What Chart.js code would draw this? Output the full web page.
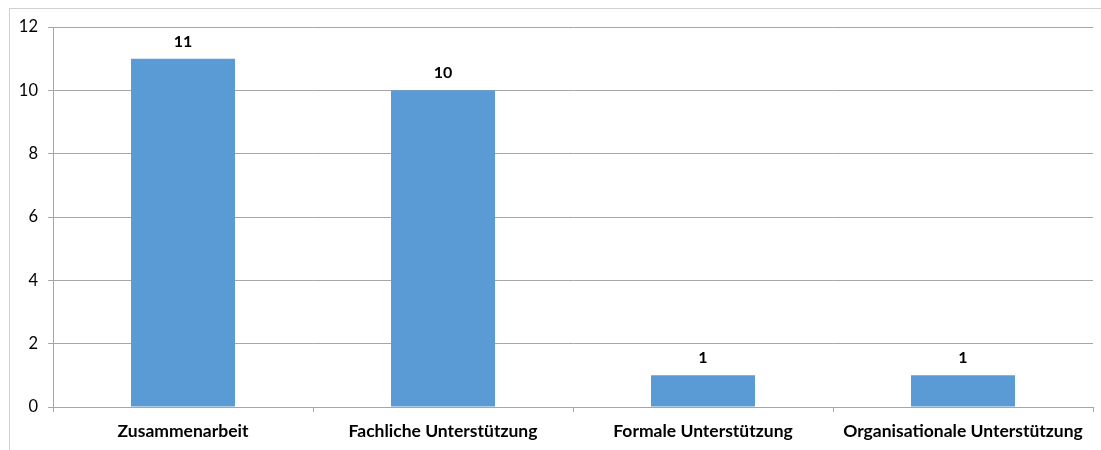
<!DOCTYPE html>
<html>
<head>
<meta charset="utf-8">
<script src="https://cdn.jsdelivr.net/npm/chart.js@4"></script>
<style>
  html, body { margin: 0; padding: 0; background: #fff; }
  #wrap { width: 1101px; height: 450px; }
</style>
</head>
<body>
<div id="wrap"><canvas id="chart" width="1101" height="450"></canvas></div>
<script>
// chart data
const categories = ['Zusammenarbeit', 'Fachliche Unterstützung', 'Formale Unterstützung', 'Organisationale Unterstützung'];
const counts = [11, 10, 1, 1];
const yTicks = [0, 2, 4, 6, 8, 10, 12];

// outer frame like the office chart border
const framePlugin = {
    id: 'frame',
    beforeDraw(chart) {
        const c = chart.ctx;
        c.save();
        c.strokeStyle = '#d0d0d0';
        c.lineWidth = 1;
        c.strokeRect(9.5, 8.5, chart.width + 20, chart.height + 20);
        c.restore();
    }
};

// value labels above the bars
const valueLabels = {
    id: 'valueLabels',
    afterDatasetsDraw(chart) {
        const c = chart.ctx;
        const meta = chart.getDatasetMeta(0);
        c.save();
        c.font = 'bold 16px Lato, "Liberation Sans", sans-serif';
        c.fillStyle = '#000';
        c.textAlign = 'center';
        c.textBaseline = 'middle';
        meta.data.forEach((bar, i) => {
            c.fillText(chart.data.datasets[0].data[i], bar.x, bar.y - 17);
        });
        c.restore();
    }
};

const ctx = document.getElementById('chart').getContext('2d');
new Chart(ctx, {
    type: 'bar',
    data: {
        labels: categories,
        datasets: [{
            data: counts,
            backgroundColor: '#5b9bd5',
            categoryPercentage: 1,
            barPercentage: 0.4
        }]
    },
    options: {
        responsive: false,
        animation: false,
        layout: { padding: { left: 0, right: 8, top: 27, bottom: 0 } },
        plugins: {
            legend: { display: false },
            tooltip: { enabled: false }
        },
        scales: {
            x: {
                grid: {
                    offset: true,
                    drawOnChartArea: false,
                    tickLength: 5,
                    color: '#a6a6a6'
                },
                border: { color: '#a6a6a6' },
                ticks: {
                    color: '#000',
                    font: { family: 'Lato, "Liberation Sans", sans-serif', size: 17.5, weight: 'bold' },
                    padding: 9,
                    maxRotation: 0,
                    autoSkip: false
                },
                afterFit(scale) { scale.height = 43; }
            },
            y: {
                min: 0,
                max: 12,
                afterBuildTicks(scale) { scale.ticks = yTicks.map(v => ({ value: v })); },
                grid: { color: '#a6a6a6', tickLength: 5 },
                border: { color: '#a6a6a6' },
                ticks: {
                    color: '#000',
                    font: { family: 'Lato, "Liberation Sans", sans-serif', size: 16.5 },
                    padding: 10
                },
                afterFit(scale) { scale.width = 53; }
            }
        }
    },
    plugins: [framePlugin, valueLabels]
});
</script>
</body>
</html>
